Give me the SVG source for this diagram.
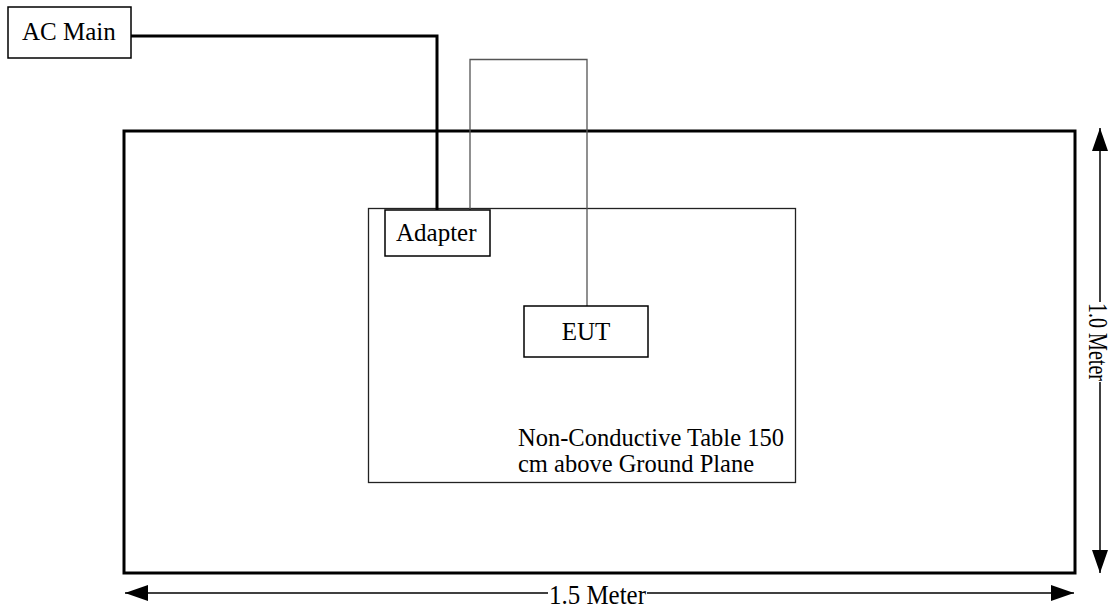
<svg xmlns="http://www.w3.org/2000/svg" width="1112" height="609" viewBox="0 0 1112 609">
<style>
.box{fill:#fff;stroke:#000;stroke-width:1.5}
.t{font-size:25px;fill:#000}
.tt{font-size:24.5px;fill:#000}
.dim{font-size:28px;fill:#000}
.thick{fill:none;stroke:#000;stroke-width:3}
.thin{fill:none;stroke:#555;stroke-width:1.3}
.dl{stroke:#000;stroke-width:1.5;fill:none}
</style>
<defs>
<marker id="ah" markerWidth="23" markerHeight="16" refX="23" refY="8" orient="auto" markerUnits="userSpaceOnUse">
<path d="M0,0 L23,8 L0,16 Z" fill="#000"/>
</marker>
</defs>
<g font-family="'Liberation Serif', 'DejaVu Serif', serif">
<g id="ground-plane">
<rect x="124" y="131" width="951" height="442" fill="none" stroke="#000" stroke-width="3"/>
</g>
<g id="table">
<rect x="368.5" y="208.5" width="427" height="274" fill="none" stroke="#222" stroke-width="1.3"/>
<text class="tt" x="518" y="446">Non-Conductive Table 150</text>
<text class="tt" x="518" y="472">cm above Ground Plane</text>
</g>
<g id="connectors">
<path class="thick" d="M131,36 H437 V210"/>
<path class="thin" d="M470,210 V59.5 H587 V306"/>
</g>
<g id="ac-main">
<rect class="box" x="8" y="7" width="123" height="51"/>
<text class="t" x="22" y="40">AC Main</text>
</g>
<g id="adapter">
<rect class="box" x="385" y="210" width="105" height="46"/>
<text class="t" x="396" y="241">Adapter</text>
</g>
<g id="eut">
<rect class="box" x="524" y="306" width="124" height="51"/>
<text class="t" x="586" y="340" text-anchor="middle">EUT</text>
</g>
<g id="dimensions">
<line class="dl" x1="548" y1="593" x2="125" y2="593" marker-end="url(#ah)"/>
<line class="dl" x1="647" y1="593" x2="1074" y2="593" marker-end="url(#ah)"/>
<text class="dim" x="549" y="604" textLength="97" lengthAdjust="spacingAndGlyphs">1.5 Meter</text>
<line class="dl" x1="1100" y1="302" x2="1100" y2="128" marker-end="url(#ah)"/>
<line class="dl" x1="1100" y1="382" x2="1100" y2="573" marker-end="url(#ah)"/>
<text class="dim" transform="translate(1089,303) rotate(90)" x="0" y="0" textLength="78" lengthAdjust="spacingAndGlyphs">1.0 Meter</text>
</g>
</g>
</svg>
